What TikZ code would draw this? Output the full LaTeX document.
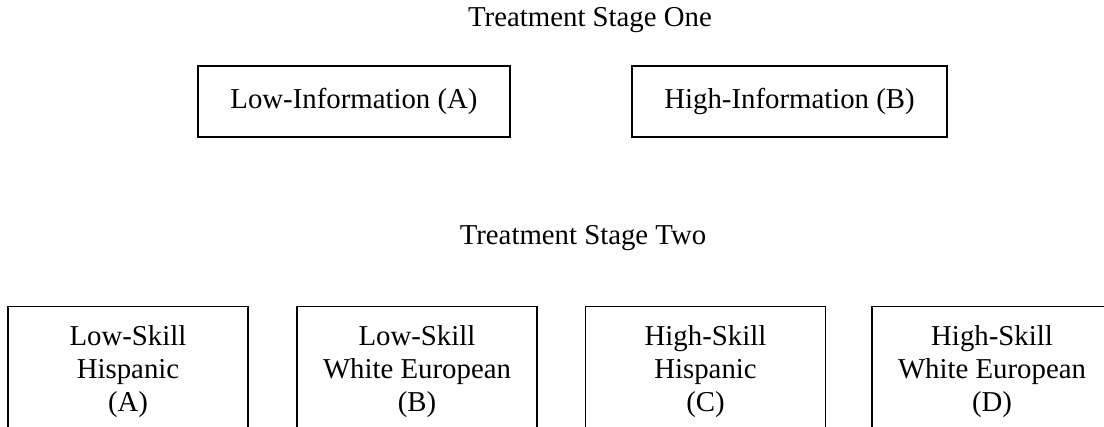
\documentclass[tikz,border=0pt]{standalone}
\usepackage{fontspec}
\setmainfont{Liberation Serif}
\begin{document}
\begin{tikzpicture}[x=1pt,y=-1pt,
  every node/.style={font=\fontsize{28.8}{33}\selectfont},
  heading/.style={anchor=base, inner sep=0pt},
  infobox/.style={draw, line width=1.2pt, minimum width=#1, minimum height=71pt, inner sep=0pt},
  skillbox/.style={draw, line width=1.2pt, align=center, minimum width=240pt, inner xsep=0pt, inner ysep=0pt,
    text height=105pt, text depth=150pt, anchor=north}]
\useasboundingbox (0,0) rectangle (1104,427);
\clip (0,0) rectangle (1104,427);
\node[heading] (h1) at (590,27) {Treatment Stage One};
\node[infobox=312pt] (ia) at (354,101.5) {Low-Information (A)};
\node[infobox=315pt] (ib) at (789.5,101.5) {High-Information (B)};
\node[heading] (h2) at (583,245) {Treatment Stage Two};
\node[skillbox] (s1) at (128,306) {Low-Skill\\Hispanic\\(A)};
\node[skillbox] (s2) at (417,306) {Low-Skill\\White European\\(B)};
\node[skillbox] (s3) at (705.5,306) {High-Skill\\Hispanic\\(C)};
\node[skillbox] (s4) at (992,306) {High-Skill\\White European\\(D)};
\end{tikzpicture}
\end{document}
